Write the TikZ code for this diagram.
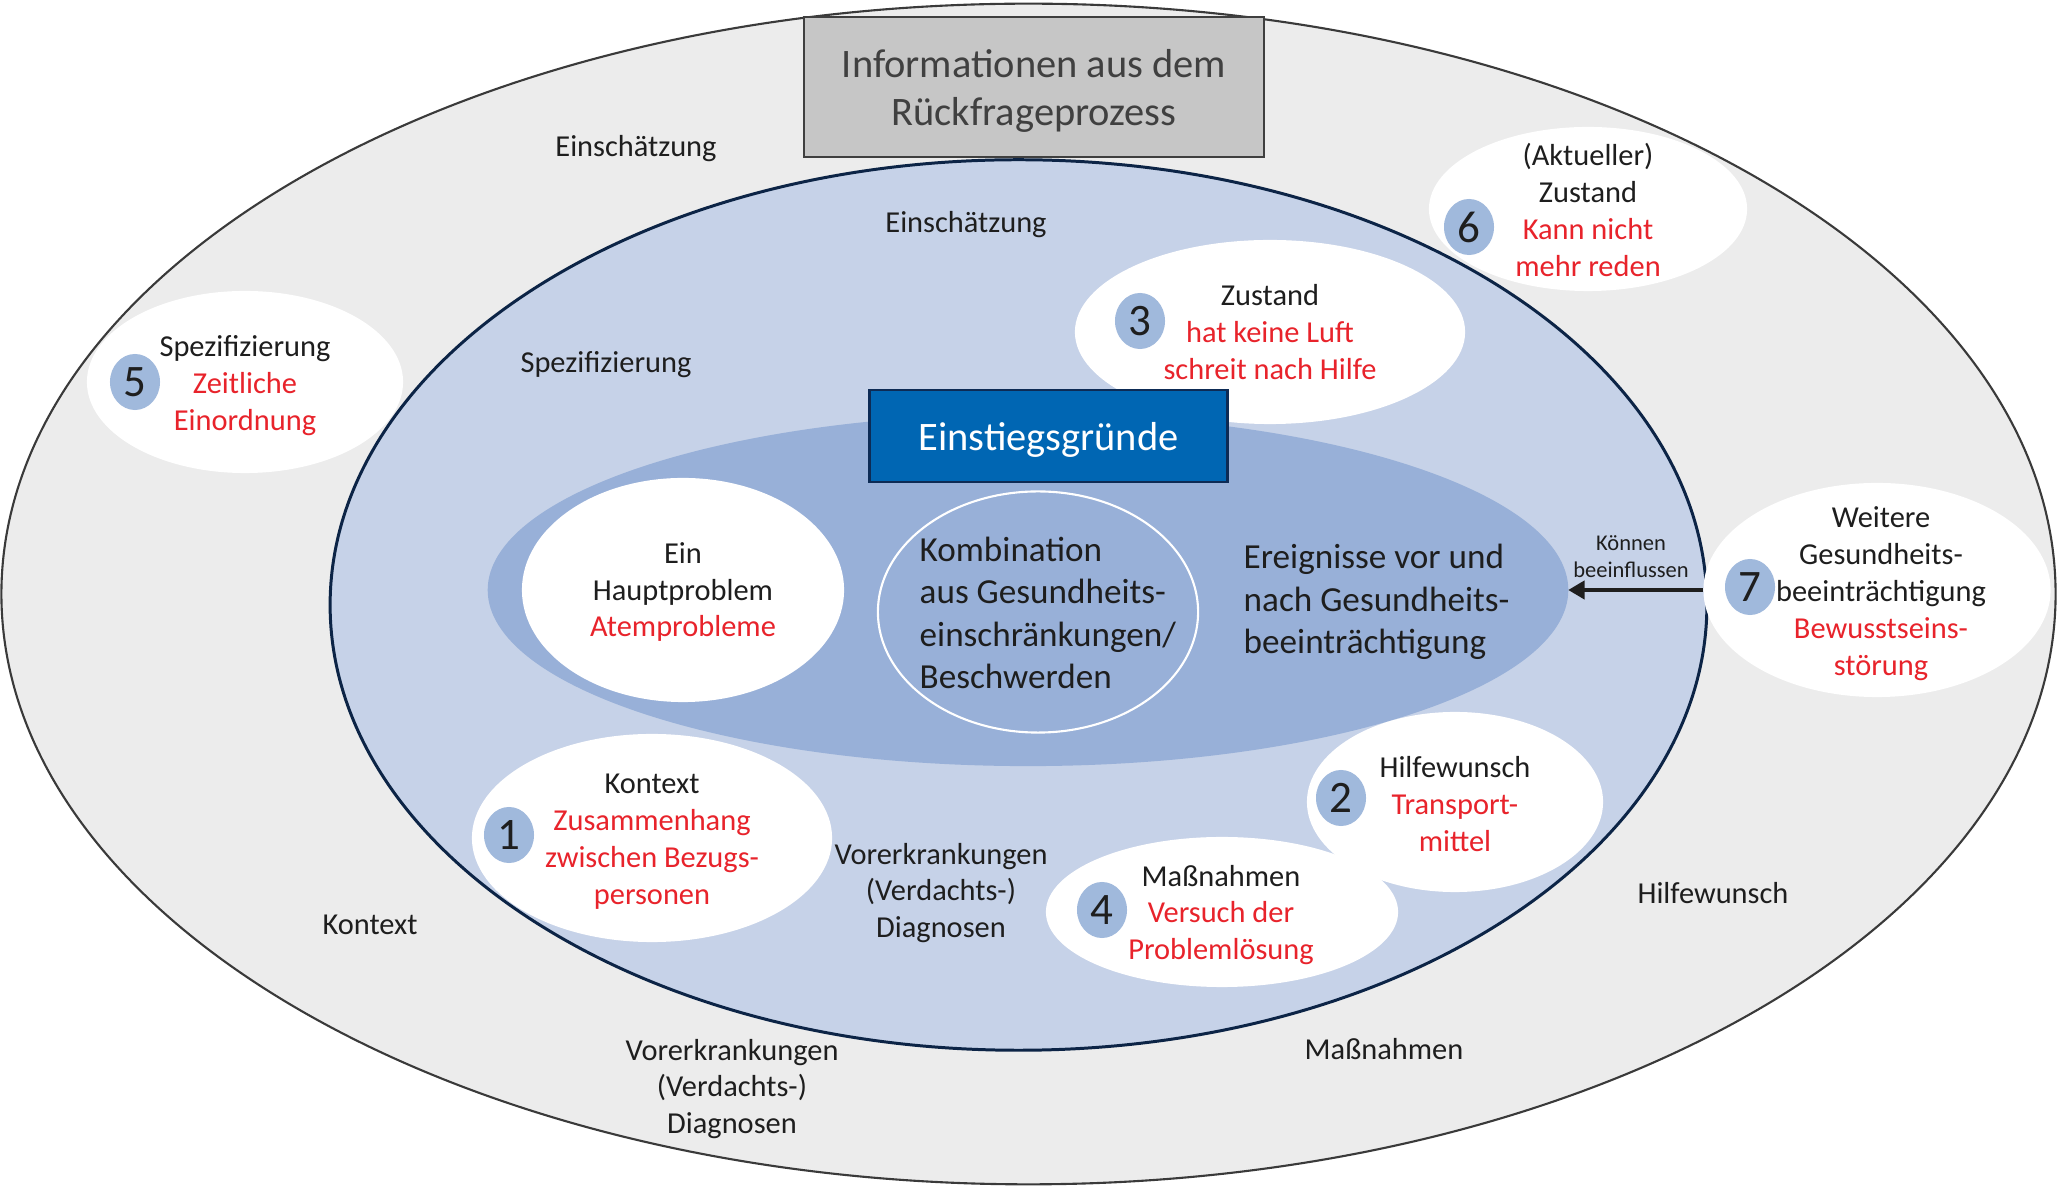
\documentclass[tikz,border=0pt]{standalone}
\usepackage{fontspec}
\setmainfont{Carlito}
\usetikzlibrary{shapes.geometric,arrows.meta}
\definecolor{outerfill}{HTML}{ECECEC}
\definecolor{outerline}{HTML}{3A3A3A}
\definecolor{midfill}{HTML}{C6D2E8}
\definecolor{midline}{HTML}{0C2446}
\definecolor{innerfill}{HTML}{98B0D8}
\definecolor{badgeblue}{HTML}{A0B9DC}
\definecolor{redt}{HTML}{E8232B}
\definecolor{txt}{HTML}{1E1E1E}
\definecolor{graybox}{HTML}{C6C6C6}
\definecolor{grayline}{HTML}{3F3F3F}
\definecolor{graytxt}{HTML}{404040}
\definecolor{bluebox}{HTML}{0066B3}
\definecolor{blueline}{HTML}{0D2B55}
\newcommand\redtxt[1]{\textcolor{redt}{#1}}
\begin{document}
\begin{tikzpicture}[x=0.01cm,y=-0.01cm,
  blob/.style={ellipse, inner sep=0pt, outer sep=0pt},
  wbub/.style={blob, fill=white},
  badge/.style={blob, fill=badgeblue, minimum width=0.50cm, minimum height=0.56cm,
    text=txt, font=\fontsize{12.8}{14}\selectfont},
  lbl/.style={align=center, inner sep=0pt, text=txt, font=\fontsize{8.65}{10.5}\selectfont},
  bigtxt/.style={align=left, inner sep=0pt, text=txt, font=\fontsize{10}{12}\selectfont},
  hdr/.style={align=center, inner sep=0pt, font=\fontsize{11.5}{13.9}\selectfont},
  small/.style={align=center, inner sep=0pt, text=txt, font=\fontsize{6.4}{7.7}\selectfont}]
\useasboundingbox (0,0) rectangle (2057,1186);

% main ellipses
\node[blob, fill=outerfill, draw=outerline, line width=0.6pt,
  minimum width=20.53cm, minimum height=11.80cm] (outer) at (1028.5,594) {};
\node[blob, fill=midfill, draw=midline, line width=0.85pt,
  minimum width=13.76cm, minimum height=8.90cm] (middle) at (1018.5,605) {};
\node[blob, fill=innerfill, minimum width=10.80cm, minimum height=3.52cm] (inner) at (1028,590) {};

% white bubbles
\node[wbub, minimum width=3.16cm, minimum height=1.82cm] (e5) at (245,382) {};
\node[wbub, minimum width=3.18cm, minimum height=1.64cm] (e6) at (1588,209) {};
\node[wbub, minimum width=3.90cm, minimum height=1.84cm] (e3) at (1270,332) {};
\node[wbub, minimum width=3.47cm, minimum height=2.14cm] (e7) at (1877,590) {};
\node[wbub, minimum width=3.60cm, minimum height=2.08cm] (e1) at (652,838) {};
\node[wbub, minimum width=2.96cm, minimum height=1.80cm] (e2) at (1455,802) {};
\node[wbub, minimum width=3.52cm, minimum height=1.50cm] (e4) at (1222,912) {};
\node[wbub, minimum width=3.22cm, minimum height=2.24cm] (eH) at (683,590) {};
\node[blob, draw=white, line width=0.6pt, minimum width=3.20cm, minimum height=2.41cm] (eK) at (1038,612) {};

% boxes
\node[fill=graybox, draw=grayline, line width=0.7pt, inner sep=0pt,
  minimum width=4.60cm, minimum height=1.40cm] (info) at (1034,87) {};
\node[hdr, text=graytxt] (infotxt) at (1034,91) {Informationen aus dem\\Rückfrageprozess};
\node[fill=bluebox, draw=blueline, line width=0.8pt, inner sep=0pt,
  minimum width=3.57cm, minimum height=0.92cm] (einst) at (1048.5,436) {};
\node[hdr, text=white] (einsttxt) at (1048.5,440) {Einstiegsgründe};

% badges
\node[badge] (b5) at (135,382) {5};
\node[badge] (b6) at (1469,227) {6};
\node[badge] (b3) at (1140,321) {3};
\node[badge] (b7) at (1750,587) {7};
\node[badge] (b1) at (509,835) {1};
\node[badge] (b2) at (1341,798) {2};
\node[badge] (b4) at (1102,910) {4};

% bubble texts
\node[lbl] (t5) at (245,386) {Spezifizierung\\\redtxt{Zeitliche}\\\redtxt{Einordnung}};
\node[lbl] (t6) at (1588,210) {(Aktueller)\\Zustand\\\redtxt{Kann nicht}\\\redtxt{mehr reden}};
\node[lbl] (t3) at (1270,332) {Zustand\\\redtxt{hat keine Luft}\\\redtxt{schreit nach Hilfe}};
\node[lbl] (t7) at (1881,594) {Weitere\\Gesundheits-\\beeinträchtigung\\\redtxt{Bewusstseins-}\\\redtxt{störung}};
\node[lbl] (t1) at (652,842) {Kontext\\\redtxt{Zusammenhang}\\\redtxt{zwischen Bezugs-}\\\redtxt{personen}};
\node[lbl] (t2) at (1455,804) {Hilfewunsch\\\redtxt{Transport-}\\\redtxt{mittel}};
\node[lbl] (t4) at (1221,915) {Maßnahmen\\\redtxt{Versuch der}\\\redtxt{Problemlösung}};
\node[lbl] (tH) at (683,592) {Ein\\Hauptproblem\\\redtxt{Atemprobleme}};

% central texts
\node[bigtxt, anchor=west] (tK) at (919,613) {Kombination\\aus Gesundheits-\\einschränkungen/\\Beschwerden};
\node[bigtxt, anchor=west] (tE) at (1243,602) {Ereignisse vor und\\nach Gesundheits-\\beeinträchtigung};

% labels
\node[lbl] (l1) at (636,149) {Einschätzung};
\node[lbl] (l2) at (966,225) {Einschätzung};
\node[lbl] (l3) at (606,365) {Spezifizierung};
\node[lbl] (l4) at (370,925) {Kontext};
\node[lbl] (l5) at (732,1089) {Vorerkrankungen\\(Verdachts-)\\Diagnosen};
\node[lbl] (l6) at (941,893) {Vorerkrankungen\\(Verdachts-)\\Diagnosen};
\node[lbl] (l7) at (1384,1049) {Maßnahmen};
\node[lbl] (l8) at (1713,893) {Hilfewunsch};
\node[small] (l9) at (1631,557) {Können\\beeinflussen};

% arrow
\draw[txt, line width=0.9pt, -{Triangle[length=4.6pt,width=5.2pt]}] (e7.west) -- (inner.east);
\end{tikzpicture}
\end{document}
